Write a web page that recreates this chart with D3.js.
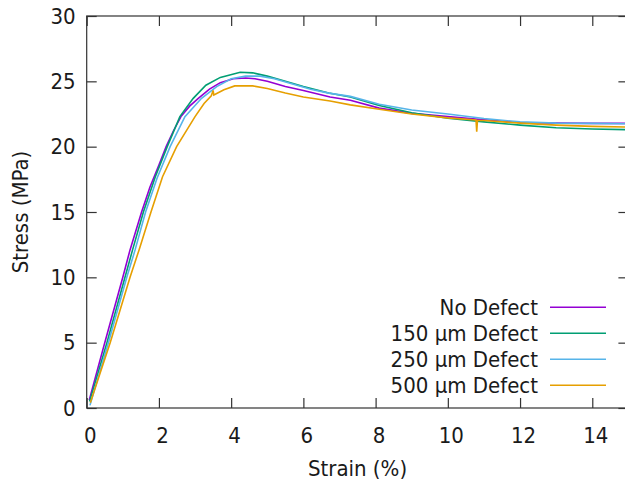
<!DOCTYPE html>
<html>
<head>
<meta charset="utf-8">
<script src="https://cdn.jsdelivr.net/npm/d3@7"></script>
<style>
  body { margin: 0; background: #fff; }
  text { font-family: "DejaVu Sans Condensed", "DejaVu Sans", sans-serif; fill: #1a1a1a; }
</style>
</head>
<body>
<svg width="625" height="486"></svg>
<script>
// strain (%) , stress (MPa)
const noDefect = [[0.07,0.6],[0.5,5],[1.0,10],[1.2,12.1],[1.52,15],[1.75,16.9],[2.0,18.6],[2.2,20],[2.4,21.2],[2.61,22.3],[2.85,23.1],[3.09,23.7],[3.4,24.4],[3.7,24.9],[4.06,25.2],[4.4,25.25],[4.66,25.2],[5.0,25.0],[5.5,24.6],[6.0,24.3],[6.74,23.8],[7.3,23.55],[8.1,22.95],[9.0,22.55],[10,22.3],[11,22.05],[12,21.85],[13,21.8],[14,21.78],[15,21.78]];
const defect150 = [[0.08,0.5],[0.56,5],[1.06,10],[1.27,12.1],[1.57,15],[1.9,17.7],[2.23,20],[2.58,22.3],[2.95,23.7],[3.3,24.7],[3.7,25.3],[4.25,25.69],[4.6,25.65],[5.0,25.4],[5.5,25.0],[6.0,24.6],[6.7,24.1],[7.3,23.8],[8.1,23.15],[9,22.6],[10,22.17],[11,21.9],[12,21.65],[13,21.45],[14,21.35],[15,21.3]];
const defect250 = [[0.09,0.2],[0.6,5],[1.11,10],[1.34,12.1],[1.63,15],[1.95,17.6],[2.31,20],[2.72,22.3],[3.18,23.7],[3.6,24.6],[4.0,25.2],[4.4,25.4],[4.8,25.4],[5.2,25.2],[5.7,24.8],[6.2,24.4],[6.7,24.1],[7.3,23.85],[8.1,23.24],[9,22.8],[10,22.5],[11,22.15],[12,21.9],[13,21.8],[14,21.78],[15,21.75]];
const defect500 = [[0.1,0.4],[0.65,5],[1.2,10],[1.45,12.1],[1.78,15],[2.1,17.7],[2.49,20],[3.0,22.3],[3.25,23.3],[3.45,23.9],[3.5,24.3],[3.52,23.95],[3.8,24.35],[4.1,24.65],[4.6,24.65],[5.0,24.45],[5.5,24.1],[6.0,23.8],[6.74,23.5],[7.3,23.2],[8.1,22.86],[9,22.5],[10,22.2],[10.78,22.05],[10.8,21.15],[10.82,22.0],[11,22.0],[12,21.8],[13,21.65],[14,21.55],[15,21.5]];

const seriesNames = ['No Defect', '150 µm Defect', '250 µm Defect', '500 µm Defect'];
const seriesData = [noDefect, defect150, defect250, defect500];
const colors = ['#9400d3', '#009e73', '#56b4e9', '#e69f00'];
const xTicks = [0, 2, 4, 6, 8, 10, 12, 14];
const yTicks = [0, 5, 10, 15, 20, 25, 30];

const svg = d3.select('svg');
const margin = {left: 86.7, top: 16, right: 628.4, bottom: 408};

const xScale = d3.scaleLinear().domain([0, 15]).range([margin.left, margin.right]);
const yScale = d3.scaleLinear().domain([0, 30]).range([margin.bottom, margin.top]);

const g = svg.append('g');

// curves
const line = d3.line()
    .x(d => xScale(d[0]))
    .y(d => yScale(d[1]));

seriesData.forEach((data, i) => {
    g.append('path')
        .datum(data)
        .attr('fill', 'none')
        .attr('stroke', colors[i])
        .attr('stroke-width', 1.6)
        .attr('d', line);
});

// frame
g.append('rect')
    .attr('x', margin.left)
    .attr('y', margin.top)
    .attr('width', margin.right - margin.left)
    .attr('height', margin.bottom - margin.top)
    .attr('fill', 'none')
    .attr('stroke', '#333')
    .attr('stroke-width', 1.2);

// axes, ticks inward like gnuplot
const tickLen = 10;
const axisStyle = sel => {
    sel.select('.domain').remove();
    sel.selectAll('.tick line').attr('stroke', '#333').attr('stroke-width', 1.2);
    sel.selectAll('.tick text').style('font-size', '22px').attr('fill', '#1a1a1a');
};

g.append('g')
    .attr('transform', `translate(0,${margin.bottom})`)
    .call(d3.axisBottom(xScale).tickValues(xTicks).tickSize(-tickLen).tickPadding(19))
    .call(axisStyle)
    .selectAll('.tick text').attr('dx', 3);

g.append('g')
    .attr('transform', `translate(0,${margin.top})`)
    .call(d3.axisTop(xScale).tickValues(xTicks).tickSize(-tickLen).tickFormat(''))
    .call(axisStyle);

g.append('g')
    .attr('transform', `translate(${margin.left},0)`)
    .call(d3.axisLeft(yScale).tickValues(yTicks).tickSize(-tickLen).tickPadding(11))
    .call(axisStyle);

g.append('g')
    .attr('transform', `translate(${margin.right},0)`)
    .call(d3.axisRight(yScale).tickValues(yTicks).tickSize(-tickLen).tickFormat(''))
    .call(axisStyle);

// axis labels
svg.append('text')
    .attr('x', (margin.left + margin.right) / 2)
    .attr('y', 476)
    .attr('text-anchor', 'middle')
    .style('font-size', '22px')
    .text('Strain (%)');

svg.append('text')
    .attr('transform', `translate(28,${(margin.top + margin.bottom) / 2}) rotate(-90)`)
    .attr('text-anchor', 'middle')
    .style('font-size', '22px')
    .text('Stress (MPa)');

// legend
const legend = svg.append('g');
seriesNames.forEach((name, i) => {
    const y = 307.3 + i * 26;
    legend.append('text')
        .attr('x', 538)
        .attr('y', y)
        .attr('dy', '0.35em')
        .attr('text-anchor', 'end')
        .style('font-size', '22px')
        .text(name);
    legend.append('line')
        .attr('x1', 550).attr('x2', 606)
        .attr('y1', y).attr('y2', y)
        .attr('stroke', colors[i])
        .attr('stroke-width', 1.6);
});
</script>
</body>
</html>
